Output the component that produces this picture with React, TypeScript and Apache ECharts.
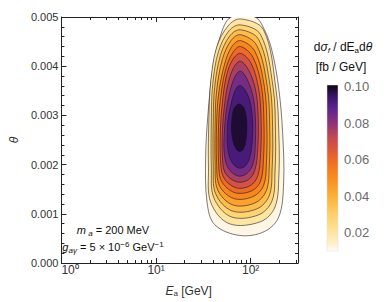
import React, { useEffect, useRef } from "react";
import * as echarts from "echarts";

// ---------- axes ----------
const E_MIN = 1;
const E_MAX = 316.2;
const E_MAJOR_TICKS = [1, 10, 100];
const E_MINOR_TICKS = [2, 3, 4, 5, 6, 7, 8, 9, 20, 30, 40, 50, 60, 70, 80, 90, 200, 300];
const THETA_MIN = 0;
const THETA_MAX = 0.005;
const THETA_STEP = 0.001;

// ---------- contour levels (fb / GeV) ----------
const CONTOUR_LEVELS = [0.008, 0.016, 0.024, 0.032, 0.04, 0.048, 0.056, 0.064, 0.072, 0.08, 0.088, 0.096];
const PEAK_VALUE = 0.101;

// ---------- contour outlines, [E_a (GeV), theta] ----------
const C_008 = [[110.8, 0.005], [61.9, 0.005], [47.9, 0.00462], [39.7, 0.00394], [35.4, 0.00303], [33.4, 0.00213], [34.6, 0.00123], [41.6, 0.00078], [76.3, 0.00056], [139.8, 0.00064], [198.5, 0.00094], [222.9, 0.00163], [217.8, 0.00263], [198.5, 0.00353], [168.6, 0.0043], [139.8, 0.00474]];
const C_016 = [[78.1, 0.00496], [57.7, 0.00482], [43.6, 0.00438], [37.9, 0.0037], [36.2, 0.00297], [35.8, 0.00193], [37.9, 0.00123], [59.1, 0.0008], [127.4, 0.00084], [180.8, 0.00114], [198.5, 0.00177], [198.5, 0.00261], [185, 0.00353], [136.6, 0.00474]];
const C_024 = [[78.1, 0.00484], [59.1, 0.00472], [45.7, 0.0043], [39.7, 0.00363], [38.4, 0.00293], [38.4, 0.00193], [40.7, 0.00133], [61.9, 0.00094], [121.6, 0.00098], [168.6, 0.00127], [180.8, 0.00187], [182.9, 0.00265], [172.6, 0.00357], [127.4, 0.00464]];
const C_032 = [[78.1, 0.00474], [60.4, 0.00462], [47.9, 0.00422], [41.6, 0.00357], [40.2, 0.00289], [40.2, 0.00197], [42.6, 0.00141], [63.3, 0.00106], [116.1, 0.0011], [157.2, 0.00137], [168.6, 0.00193], [170.6, 0.00269], [160.9, 0.00357], [121.6, 0.00454]];
const C_040 = [[78.1, 0.00464], [61.9, 0.00452], [50.2, 0.00414], [43.6, 0.00349], [42.1, 0.00285], [42.1, 0.00201], [44.7, 0.00149], [64.8, 0.00118], [110.8, 0.00122], [146.6, 0.00147], [157.2, 0.00197], [159, 0.00273], [150.1, 0.00357], [116.1, 0.00442]];
const C_048 = [[78.1, 0.00452], [63.3, 0.0044], [52.6, 0.00402], [45.7, 0.00341], [43.6, 0.00281], [43.6, 0.00205], [46.8, 0.00157], [66.4, 0.00131], [105.8, 0.00135], [136.6, 0.00157], [146.6, 0.00203], [148.3, 0.00277], [139.8, 0.00357], [110.8, 0.0043]];
const C_056 = [[78.1, 0.0044], [64.8, 0.00428], [53.8, 0.0039], [47.9, 0.00333], [45.7, 0.00277], [45.7, 0.00209], [49.0, 0.00167], [67.9, 0.00143], [103.3, 0.00147], [127.4, 0.00167], [136.6, 0.00213], [138.2, 0.00283], [130.4, 0.00357], [105.8, 0.00418]];
const C_064 = [[78.1, 0.00426], [64.8, 0.00414], [55.1, 0.00378], [50.2, 0.00325], [47.9, 0.00273], [47.9, 0.00213], [51.4, 0.00175], [69.5, 0.00153], [98.6, 0.00157], [118.8, 0.00177], [127.4, 0.00223], [128.9, 0.00289], [121.6, 0.00353], [100.9, 0.00406]];
const C_072 = [[78.1, 0.0041], [66.4, 0.00398], [57.7, 0.00365], [52.6, 0.00317], [50.2, 0.00269], [50.2, 0.00217], [53.8, 0.00183], [71.2, 0.00165], [94.1, 0.00169], [110.8, 0.00189], [118.8, 0.00233], [120.2, 0.00293], [113.4, 0.00349], [96.3, 0.0039]];
const C_080 = [[78.1, 0.0039], [67.9, 0.00378], [60.4, 0.00349], [55.1, 0.00309], [52.6, 0.00263], [52.6, 0.00223], [57.7, 0.00193], [72.8, 0.00177], [89.8, 0.00181], [105.8, 0.00201], [112.1, 0.00243], [112.1, 0.00297], [105.8, 0.00339], [92, 0.00373]];
const C_088 = [[76.3, 0.00361], [67.9, 0.00349], [61.9, 0.00323], [57.7, 0.00293], [56.4, 0.00257], [57.7, 0.00227], [63.3, 0.00205], [74.6, 0.00193], [87.8, 0.00197], [98.6, 0.00217], [104.5, 0.00253], [104.5, 0.00293], [98.6, 0.00327], [87.8, 0.00351]];
const C_096 = [[74.6, 0.00323], [66.4, 0.00313], [63.3, 0.00293], [62.6, 0.00273], [64.1, 0.00253], [67.9, 0.00237], [74.6, 0.00227], [81.9, 0.00229], [87.8, 0.00243], [90.9, 0.00269], [89.8, 0.00297], [83.8, 0.00317]];
const CONTOURS = [C_008, C_016, C_024, C_032, C_040, C_048, C_056, C_064, C_072, C_080, C_088, C_096];

// ---------- colour bar ----------
const CBAR_MIN = 0.0101;
const CBAR_MAX = 0.101;
const CBAR_TICKS = [0.02, 0.04, 0.06, 0.08, 0.1];
const COLOR_STOPS: [number, string][] = [
  [0.0101, "#ffffff"],
  [0.013, "#fff2d4"],
  [0.02, "#fee6a2"],
  [0.03, "#fed06a"],
  [0.04, "#fcb038"],
  [0.05, "#f98d1e"],
  [0.058, "#f1721e"],
  [0.065, "#de5a38"],
  [0.072, "#c24a52"],
  [0.08, "#8e3478"],
  [0.088, "#5c2590"],
  [0.095, "#381464"],
  [0.101, "#0c0610"],
];

const FONT = "'Liberation Sans', Arial, sans-serif";
const SUPERSCRIPT_DIGITS = ["⁰", "¹", "²", "³"];

function hexToRgb(h: string) {
  const n = parseInt(h.slice(1), 16);
  return [(n >> 16) & 255, (n >> 8) & 255, n & 255];
}
function colorAt(v: number) {
  if (v <= COLOR_STOPS[0][0]) return COLOR_STOPS[0][1];
  for (let i = 1; i < COLOR_STOPS.length; i++) {
    const [v1, c1] = COLOR_STOPS[i];
    const [v0, c0] = COLOR_STOPS[i - 1];
    if (v <= v1) {
      const t = (v - v0) / (v1 - v0);
      const a = hexToRgb(c0);
      const b = hexToRgb(c1);
      const r = a.map((x, k) => Math.round(x + (b[k] - x) * t));
      return `rgb(${r[0]},${r[1]},${r[2]})`;
    }
  }
  return COLOR_STOPS[COLOR_STOPS.length - 1][1];
}
function bandColor(i: number) {
  const lo = CONTOUR_LEVELS[i];
  const hi = i < CONTOUR_LEVELS.length - 1 ? CONTOUR_LEVELS[i + 1] : PEAK_VALUE;
  return colorAt((lo + hi) / 2);
}

// colour-bar geometry (legend box)
const CB_X = 327;
const CB_Y = 85;
const CB_W = 11;
const CB_H = 166;
const cbY = (v: number) => CB_Y + CB_H - ((v - CBAR_MIN) / (CBAR_MAX - CBAR_MIN)) * CB_H;

const AXIS_COLOR = "#222";
const LABEL_COLOR = "#333";

function xLabel(v: number) {
  return "10" + SUPERSCRIPT_DIGITS[Math.round(Math.log10(v))];
}

export default function App() {
  const ref = useRef<HTMLDivElement>(null);
  useEffect(() => {
    if (!ref.current) return;
    const chart = echarts.init(ref.current, null, { renderer: "svg" });

    const baseX = (position: "top" | "bottom", ticks: number[], len: number, showLine: boolean, labels: boolean, extra: any = {}) => ({
      type: "log",
      logBase: 10,
      min: E_MIN,
      max: E_MAX,
      position,
      gridIndex: 0,
      axisLine: { show: showLine, onZero: false, lineStyle: { color: AXIS_COLOR, width: 1 } },
      axisTick: { show: true, inside: true, length: len, customValues: ticks, lineStyle: { color: AXIS_COLOR, width: 1 } },
      axisLabel: labels
        ? {
            show: true,
            customValues: E_MAJOR_TICKS,
            formatter: xLabel,
            fontSize: 12,
            fontFamily: FONT,
            color: LABEL_COLOR,
            lineHeight: 12,
            margin: 1,
            alignMinLabel: "left",
          }
        : { show: false },
      splitLine: { show: false },
      minorTick: { show: false },
      ...extra,
    });

    const baseY = (position: "left" | "right", labels: boolean, extra: any = {}) => ({
      type: "value",
      min: THETA_MIN,
      max: THETA_MAX,
      interval: THETA_STEP,
      position,
      gridIndex: 0,
      axisLine: { show: true, onZero: false, lineStyle: { color: AXIS_COLOR, width: 1 } },
      axisTick: { show: true, inside: true, length: 5, lineStyle: { color: AXIS_COLOR, width: 1 } },
      minorTick: { show: true, splitNumber: 5, length: 3, lineStyle: { color: AXIS_COLOR, width: 1 } },
      axisLabel: labels
        ? { show: true, formatter: (v: number) => v.toFixed(3), fontSize: 11, fontFamily: FONT, color: LABEL_COLOR, margin: 3, lineHeight: 11 }
        : { show: false },
      splitLine: { show: false },
      ...extra,
    });

    const option: any = {
      animation: false,
      grid: { left: 50, right: 92, top: 17, bottom: 36, containLabel: false },
      xAxis: [
        baseX("bottom", E_MAJOR_TICKS, 5, true, true, {
          name: "{i|E}{sub|a} [GeV]",
          nameLocation: "middle",
          nameGap: 22,
          nameTextStyle: {
            fontSize: 12,
            fontFamily: FONT,
            color: LABEL_COLOR,
            padding: [0, 0, 0, 18],
            rich: {
              i: { fontSize: 12, fontStyle: "italic", fontFamily: FONT, color: LABEL_COLOR },
              sub: { fontSize: 8, fontFamily: FONT, color: LABEL_COLOR, verticalAlign: "bottom", lineHeight: 8 },
            },
          },
        }),
        baseX("bottom", E_MINOR_TICKS, 3, false, false),
        baseX("top", E_MAJOR_TICKS, 5, true, false),
        baseX("top", E_MINOR_TICKS, 3, false, false),
      ],
      yAxis: [
        baseY("left", true, {
          name: "θ",
          nameLocation: "middle",
          nameGap: 36,
          nameRotate: 90,
          nameTextStyle: { fontSize: 12, fontStyle: "italic", fontFamily: FONT, color: LABEL_COLOR },
        }),
        baseY("right", false),
      ],
      series: [
        {
          type: "custom",
          coordinateSystem: "cartesian2d",
          xAxisIndex: 0,
          yAxisIndex: 0,
          clip: true,
          silent: true,
          data: CONTOURS.map((pts, i) => [pts[0][0], pts[0][1], i]),
          renderItem: (_params: any, api: any) => {
            const idx = api.value(2);
            const pts = CONTOURS[idx].map((p) => api.coord(p));
            return {
              type: "polygon",
              shape: { points: pts, smooth: 0.35 },
              style: { fill: bandColor(idx), stroke: "rgba(25,15,25,0.8)", lineWidth: 0.7 },
            };
          },
        },
      ],
      graphic: [
        {
          type: "rect",
          shape: { x: CB_X, y: CB_Y, width: CB_W, height: CB_H },
          style: {
            fill: {
              type: "linear",
              x: 0,
              y: 0,
              x2: 0,
              y2: 1,
              colorStops: COLOR_STOPS.map(([v, c]) => ({ offset: (CBAR_MAX - v) / (CBAR_MAX - CBAR_MIN), color: c })).reverse(),
            },
            stroke: "#dddddd",
            lineWidth: 0.5,
          },
        },
        ...CBAR_TICKS.map((v) => ({
          type: "text",
          x: 344,
          y: cbY(v),
          style: {
            text: v.toFixed(2),
            fontSize: 13,
            fontFamily: FONT,
            fill: "#6a6a6a",
            align: "left",
            verticalAlign: "middle",
            textAlign: "left",
            textVerticalAlign: "middle",
          },
        })),
        {
          type: "text",
          x: 343,
          y: 47,
          style: {
            text: "{n|d}{gi|σ}{si|f}{n| / dE}{s|a}{n|d}{gi|θ}",
            align: "center",
            verticalAlign: "middle",
            textAlign: "center",
            textVerticalAlign: "middle",
            rich: {
              n: { fontSize: 12, fontFamily: FONT, fill: "#111", lineHeight: 15 },
              gi: { fontSize: 12, fontFamily: FONT, fontStyle: "italic", fill: "#111", lineHeight: 15 },
              si: { fontSize: 8, fontFamily: FONT, fontStyle: "italic", fill: "#111", lineHeight: 8, verticalAlign: "bottom" },
              s: { fontSize: 8, fontFamily: FONT, fill: "#111", lineHeight: 8, verticalAlign: "bottom" },
            },
          },
        },
        {
          type: "text",
          x: 341,
          y: 67,
          style: {
            text: "[fb / GeV]",
            fontSize: 12,
            fontFamily: FONT,
            fill: "#111",
            align: "center",
            verticalAlign: "middle",
            textAlign: "center",
            textVerticalAlign: "middle",
          },
        },
        {
          type: "text",
          x: 113,
          y: 230,
          style: {
            text: "{i|m}{si| a}{n| = 200 MeV}",
            align: "center",
            verticalAlign: "middle",
            textAlign: "center",
            textVerticalAlign: "middle",
            rich: {
              n: { fontSize: 11, fontFamily: FONT, fill: "#111", lineHeight: 14 },
              i: { fontSize: 11, fontFamily: FONT, fontStyle: "italic", fill: "#111", lineHeight: 14 },
              si: { fontSize: 8, fontFamily: FONT, fontStyle: "italic", fill: "#111", lineHeight: 8, verticalAlign: "bottom" },
            },
          },
        },
        {
          type: "text",
          x: 113,
          y: 247,
          style: {
            text: "{i|g}{si|aγ}{n| = 5 × 10}{sp|−6}{n| GeV}{sp|−1}",
            align: "center",
            verticalAlign: "middle",
            textAlign: "center",
            textVerticalAlign: "middle",
            rich: {
              n: { fontSize: 11, fontFamily: FONT, fill: "#111", lineHeight: 14 },
              i: { fontSize: 11, fontFamily: FONT, fontStyle: "italic", fill: "#111", lineHeight: 14 },
              si: { fontSize: 8, fontFamily: FONT, fontStyle: "italic", fill: "#111", lineHeight: 8, verticalAlign: "bottom" },
              sp: { fontSize: 8, fontFamily: FONT, fill: "#111", lineHeight: 8, verticalAlign: "top" },
            },
          },
        },
      ],
    };

    chart.setOption(option);
    return () => chart.dispose();
  }, []);

  return <div ref={ref} style={{ position: "fixed", left: 0, top: 0, width: 390, height: 302, background: "#fff" }} />;
}
